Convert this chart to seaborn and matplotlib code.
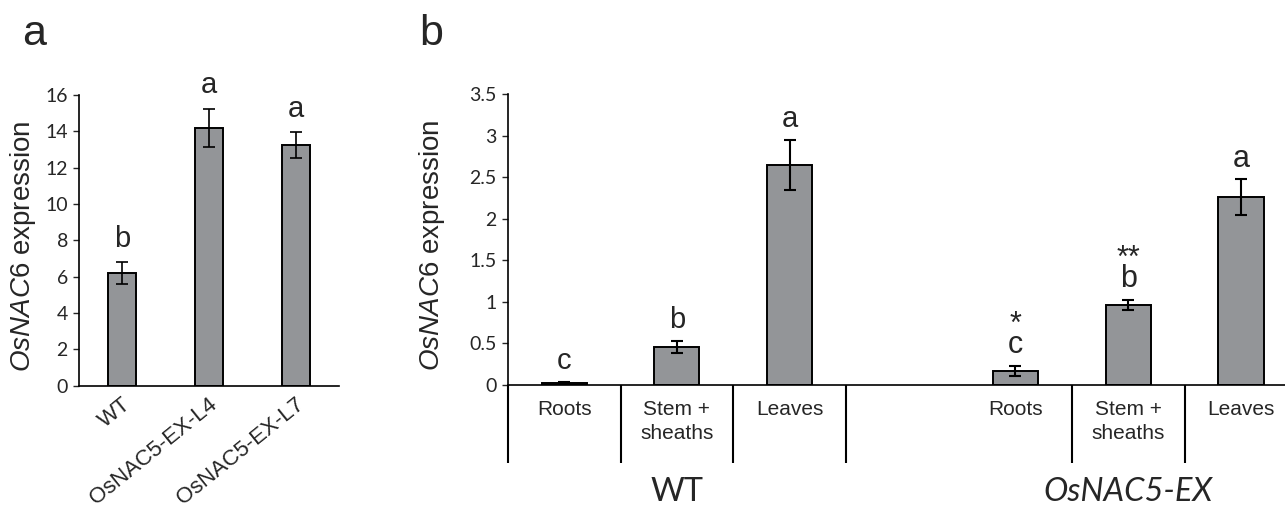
import numpy as np
import pandas as pd
import matplotlib
matplotlib.use("Agg")
import matplotlib.pyplot as plt
import matplotlib.transforms as mtransforms
import seaborn as sns

sns.set_style("ticks")
plt.rcParams['font.family'] = ['Liberation Sans', 'DejaVu Sans']
plt.rcParams['mathtext.fontset'] = 'custom'
plt.rcParams['mathtext.it'] = 'Liberation Sans:italic'
plt.rcParams['mathtext.rm'] = 'Liberation Sans'

# ---------------- data ----------------
# panel a
lines_a = ['WT', 'OsNAC5-EX-L4', 'OsNAC5-EX-L7']
expr_a = [6.2, 14.2, 13.25]
err_a = [0.6, 1.05, 0.72]
letters_a = ['b', 'a', 'a']
yticks_a = [0, 2, 4, 6, 8, 10, 12, 14, 16]

# panel b
tissues = ['Roots', 'Stem +\nsheaths', 'Leaves']
genotypes = ['WT', 'OsNAC5-EX']
expr_wt = [0.025, 0.455, 2.645]
err_wt = [0.006, 0.07, 0.30]
expr_ex = [0.17, 0.965, 2.265]
err_ex = [0.06, 0.06, 0.215]
letters_wt = ['c', 'b', 'a']
letters_ex = ['c', 'b', 'a']
stars_ex = ['*', '**', '']
yticks_b = [0, 0.5, 1, 1.5, 2, 2.5, 3, 3.5]
ytick_labels_b = ['0', '0.5', '1', '1.5', '2', '2.5', '3', '3.5']

BAR = '#939598'
LW = 1.4
TICKFONT = 'Lato'

fig = plt.figure(figsize=(12.85, 5.07), dpi=100)
W, H = 1285, 507

def axes_px(left, top, right, bottom):
    return fig.add_axes([left / W, 1 - bottom / H, (right - left) / W, (bottom - top) / H])

# ---------------- panel a ----------------
axa = axes_px(79, 95, 339, 385.7)
df_a = pd.DataFrame({'line': lines_a, 'expr': expr_a})
sns.barplot(data=df_a, x='line', y='expr', order=lines_a, color=BAR, saturation=1,
            edgecolor='black', linewidth=LW, width=0.32, errorbar=None, ax=axa)
pos_a = [lines_a.index(l) for l in lines_a]
axa.errorbar(pos_a, expr_a, yerr=err_a, fmt='none', ecolor='black',
             elinewidth=1.2, capsize=4.5, capthick=1.2)
axa.set_ylim(0, 16)
axa.set_xlim(-0.5, 2.5)
axa.set_yticks(yticks_a)
axa.set_yticklabels([str(v) for v in yticks_a], fontsize=14, fontfamily=TICKFONT)
axa.set_xticks(pos_a)
axa.set_xticklabels(lines_a, rotation=39, ha='right', va='center',
                    rotation_mode='anchor', fontsize=16)
axa.tick_params(axis='x', length=0, pad=12)
shift = mtransforms.ScaledTranslation(6 / 100, 0, fig.dpi_scale_trans)
for lab in axa.get_xticklabels():
    lab.set_transform(lab.get_transform() + shift)
axa.tick_params(axis='y', length=4, width=1, pad=4, direction='out')
axa.set_xlabel('')
axa.set_ylabel(r'$\mathit{OsNAC6}$ expression', fontsize=20)
axa.yaxis.set_label_coords((23 - 79) / 260, 0.48)
axa.yaxis.label.set_va('center')
for s in ['top', 'right']:
    axa.spines[s].set_visible(False)
for s in ['left', 'bottom']:
    axa.spines[s].set_linewidth(1.2)
    axa.spines[s].set_color('black')
for p, v, e, t in zip(pos_a, expr_a, err_a, letters_a):
    axa.annotate(t, (p, v + e), xytext=(0, 11), textcoords='offset points',
                 ha='center', va='baseline', fontsize=21)

# ---------------- panel b ----------------
axb = axes_px(507.7, 94.3, 1285, 385)
slots_wt = [f'WT|{t}' for t in tissues]
slots_ex = [f'EX|{t}' for t in tissues]
order_b = slots_wt + ['gap'] + slots_ex
df_b = pd.DataFrame({'slot': slots_wt + slots_ex, 'expr': expr_wt + expr_ex})
sns.barplot(data=df_b, x='slot', y='expr', order=order_b, color=BAR, saturation=1,
            edgecolor='black', linewidth=LW, width=0.4, errorbar=None, ax=axb)
pos_wt = [order_b.index(s) for s in slots_wt]
pos_ex = [order_b.index(s) for s in slots_ex]
axb.errorbar(pos_wt + pos_ex, expr_wt + expr_ex, yerr=err_wt + err_ex, fmt='none',
             ecolor='black', elinewidth=1.5, capsize=4.5, capthick=1.5)
axb.set_ylim(0, 3.5)
axb.set_xlim(-0.5, 6.39)
axb.set_yticks(yticks_b)
axb.set_yticklabels(ytick_labels_b, fontsize=14, fontfamily=TICKFONT)
axb.set_xticks([])
axb.tick_params(axis='y', length=4, width=1, pad=4, direction='out')
axb.set_xlabel('')
axb.set_ylabel(r'$\mathit{OsNAC6}$ expression', fontsize=20)
axb.yaxis.set_label_coords((432 - 507.7) / 777.3, 0.48)
axb.yaxis.label.set_va('center')
for s in ['top', 'right']:
    axb.spines[s].set_visible(False)
for s in ['left', 'bottom']:
    axb.spines[s].set_linewidth(1.2)
    axb.spines[s].set_color('black')

tr = axb.get_xaxis_transform()
sep_bottom = -(463 - 385) / 290.7
seps = [-0.5] + [p + 0.5 for p in pos_wt] + [p + 0.5 for p in pos_ex[:-1]]
for x in seps:
    axb.plot([x, x], [0, sep_bottom], transform=tr, color='black', lw=1.5,
             clip_on=False, solid_capstyle='butt')

for p, t in zip(pos_wt + pos_ex, tissues + tissues):
    axb.text(p, -0.052, t, transform=tr, ha='center', va='top', fontsize=15,
             linespacing=1.35)

axb.text(np.mean(pos_wt), -0.368, genotypes[0], transform=tr, ha='center',
         va='center', fontsize=23.5, fontfamily=TICKFONT)
axb.text(np.mean(pos_ex), -0.368, genotypes[1], transform=tr, ha='center',
         va='center', fontsize=23.5, fontfamily=TICKFONT, fontstyle='italic')

for p, v, e, t in zip(pos_wt, expr_wt, err_wt, letters_wt):
    axb.annotate(t, (p, v + e), xytext=(0, 10), textcoords='offset points',
                 ha='center', va='baseline', fontsize=21)
for p, v, e, t, st in zip(pos_ex, expr_ex, err_ex, letters_ex, stars_ex):
    label = f'{st}\n{t}' if st else t
    axb.annotate(label, (p, v + e), xytext=(0, 9), textcoords='offset points',
                 ha='center', va='baseline', fontsize=22, linespacing=0.6,
                 multialignment='center')

fig.text(34 / W, 1 - 45 / H, 'a', ha='center', va='baseline', fontsize=31)
fig.text(431.5 / W, 1 - 45 / H, 'b', ha='center', va='baseline', fontsize=31)

fig.savefig('out.png', dpi=100)
